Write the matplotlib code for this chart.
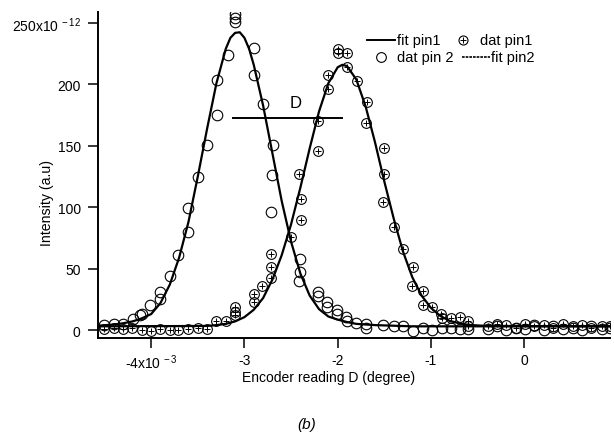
import matplotlib
matplotlib.use("Agg")
import matplotlib.pyplot as plt
from matplotlib.lines import Line2D

plt.rcParams["font.family"] = ["Liberation Sans", "DejaVu Sans"]
plt.rcParams["mathtext.fontset"] = "custom"
plt.rcParams["mathtext.rm"] = "Liberation Sans"
plt.rcParams["mathtext.default"] = "regular"

# encoder reading in units of 1e-3 degree, intensity in units of 1e-12
pin1_x = [-4.51, -4.40, -4.30, -4.21, -4.10, -4.00, -3.90, -3.80, -3.71, -3.61,
          -3.50, -3.40, -3.31, -3.20, -3.10, -3.10, -3.10, -2.90, -2.90, -2.81,
          -2.71, -2.71, -2.71, -2.50, -2.39, -2.39, -2.41, -2.21, -2.21, -2.10,
          -2.10, -2.00, -2.00, -1.90, -1.90, -1.79, -1.69, -1.70, -1.50, -1.50,
          -1.51, -1.40, -1.30, -1.19, -1.20, -1.09, -1.09, -0.99, -0.89, -0.88,
          -0.79, -0.69, -0.60, -0.60,
          -0.39, -0.29, -0.19, -0.09, 0.01, 0.11, 0.21, 0.31, 0.42, 0.52,
          0.62, 0.72, 0.83, 0.92]
pin1_y = [1, 2, 1, 2, 0, -1, 1, 0, 0, 1,
          2, 1, 7, 7, 12, 15, 19, 23, 29, 36,
          42, 51, 62, 76, 90, 107, 127, 146, 170, 196,
          208, 226, 229, 226, 214, 203, 186, 169, 148, 127,
          104, 84, 66, 51, 36, 32, 20, 19, 13, 10,
          10, 11, 7, 3,
          3, 5, 4, 2, 5, 3, 4, 2, 5, 3,
          4, 2, 3, 3]

pin2_x = [-4.51, -4.40, -4.30, -4.20, -4.12, -4.10, -4.01, -3.91, -3.90, -3.80,
          -3.71, -3.60, -3.60, -3.50, -3.40, -3.29, -3.29, -3.18, -3.10, -3.10,
          -3.10, -2.90, -2.90, -2.80, -2.69, -2.70, -2.71, -2.40, -2.40, -2.41,
          -2.21, -2.21, -2.11, -2.11, -2.01, -2.01, -1.91, -1.90, -1.80, -1.70,
          -1.70, -1.51, -1.40, -1.30, -1.19, -1.09, -0.99, -0.88, -0.79, -0.69,
          -0.60,
          -0.39, -0.29, -0.19, -0.09, 0.01, 0.11, 0.21, 0.31, 0.42, 0.52,
          0.62, 0.72, 0.83, 0.92]
pin2_y = [4, 5, 5, 9, 12, 13, 20, 25, 31, 44,
          61, 80, 99, 125, 151, 175, 204, 224, 251, 254,
          257, 230, 208, 184, 151, 126, 96, 58, 47, 40,
          31, 28, 23, 19, 16, 13, 11, 7, 6, 5,
          2, 4, 3, 3, -1, 2, 0, 2, 2, 1,
          1,
          1, 3, 0, 2, 1, 4, 0, 3, 1, 2,
          0, 3, 1, 2]

fit1_x = [-4.57, -3.4, -3.3, -3.2, -3.1, -3.0, -2.9, -2.8, -2.7, -2.6, -2.5,
          -2.4, -2.3, -2.2, -2.1, -2.0, -1.95, -1.9, -1.8, -1.7, -1.6, -1.5,
          -1.4, -1.3, -1.2, -1.1, -1.0, -0.9, -0.8, -0.7, -0.6, -0.4, 0.92]
fit1_y = [3, 3.3, 4, 5, 7, 10.5, 16.5, 26, 41, 61, 86,
          116, 148, 178, 201, 214, 216, 215, 204, 182, 153, 121,
          91, 64, 43, 28, 18, 11.5, 7.5, 5.5, 4.2, 3.3, 3]

fit2_x = [-4.57, -4.4, -4.3, -4.2, -4.1, -4.0, -3.9, -3.8, -3.7, -3.6, -3.5,
          -3.4, -3.3, -3.2, -3.15, -3.1, -3.05, -3.0, -2.95, -2.9, -2.8, -2.7,
          -2.6, -2.5, -2.4, -2.3, -2.2, -2.1, -2.0, -1.9, -1.8, -1.6, -1.4,
          -1.2, -1.0, 0.92]
fit2_y = [3.5, 4.5, 5.5, 7, 9.5, 13, 22, 37, 59, 88, 125,
          164, 201, 229, 238, 242, 242.5, 238, 229, 216, 183, 144,
          105, 72, 46, 28, 17, 11, 8.5, 6.5, 5, 4, 3.5,
          3, 3, 3]

d_line_x = [-3.12, -1.95]
d_line_y = 173

x_ticks = [-4, -3, -2, -1, 0]
x_tick_labels = ["-4x10$^{\\,-3}$", "-3", "-2", "-1", "0"]
y_ticks = [0, 50, 100, 150, 200, 250]
y_tick_labels = ["0", "50", "100", "150", "200", "250x10$^{\\,-12}$"]


def px(x, y):
    # figure pixel position -> figure fraction (origin top left)
    return x / 614, 1 - y / 439


def main():
    fig = plt.figure(figsize=(6.14, 4.39), dpi=100)
    ax = fig.add_axes([98 / 614, 1 - 339 / 439, 512 / 614, 326 / 439])

    ax.plot(fit2_x, fit2_y, color="black", lw=1.6)
    ax.plot(fit1_x, fit1_y, color="black", lw=1.6)

    ax.plot(pin2_x, pin2_y, "o", ms=7.6, mfc="none", mec="black", mew=0.8)
    ax.plot(pin1_x, pin1_y, "o", ms=7.0, mfc="none", mec="black", mew=0.8)
    ax.plot(pin1_x, pin1_y, "+", ms=4.0, color="black", mew=0.7)

    ax.plot(d_line_x, [d_line_y, d_line_y], color="black", lw=1.4)
    ax.text(-2.45, 185, "D", fontsize=12, ha="center", va="center")

    ax.set_xlim(-4.57, 0.92)
    ax.set_ylim(-6.5, 259)
    ax.set_xticks(x_ticks)
    ax.set_xticklabels(x_tick_labels)
    ax.set_yticks(y_ticks)
    ax.set_yticklabels(y_tick_labels)
    ax.tick_params(direction="out", length=7, width=1.1, labelsize=10)
    ax.tick_params(axis="x", pad=3.5)
    ax.tick_params(axis="y", pad=5.5)
    for side in ["top", "right"]:
        ax.spines[side].set_visible(False)
    for side in ["left", "bottom"]:
        ax.spines[side].set_linewidth(1.4)

    ax.set_xlabel("Encoder reading D (degree)", fontsize=10)
    ax.set_ylabel("Intensity (a.u)", fontsize=10.2)
    ax.xaxis.set_label_coords(0.451, -0.098)
    ax.yaxis.set_label_coords(-0.086, 0.417)

    # legend, laid out by hand like the original
    fs = 10.5
    x0, y0 = px(367, 41)
    x1, _ = px(395, 41)
    fig.add_artist(Line2D([x0, x1], [y0, y0], color="black", lw=1.4))
    fig.text(*px(397, 41), "fit pin1", fontsize=fs, va="center")
    fig.add_artist(Line2D([px(463, 41)[0]], [y0], marker="o", ms=6.5,
                          mfc="none", mec="black", mew=0.8))
    fig.add_artist(Line2D([px(463, 41)[0]], [y0], marker="+", ms=4.0,
                          color="black", mew=0.7))
    fig.text(*px(480, 41), "dat pin1", fontsize=fs, va="center")
    _, y1 = px(381, 58)
    fig.add_artist(Line2D([px(381, 58)[0]], [y1], marker="o", ms=7.0,
                          mfc="none", mec="black", mew=0.8))
    fig.text(*px(397, 58), "dat pin 2", fontsize=fs, va="center")
    fig.add_artist(Line2D([px(462, 58)[0], px(490, 58)[0]], [y1, y1],
                          color="black", lw=1.2, linestyle=(0, (1.6, 0.6))))
    fig.text(*px(491, 58), "fit pin2", fontsize=fs, va="center")

    fig.text(*px(307, 425), "(b)", fontsize=11, style="italic",
             ha="center", va="center")

    fig.savefig("out.png", dpi=100)


if __name__ == "__main__":
    main()
